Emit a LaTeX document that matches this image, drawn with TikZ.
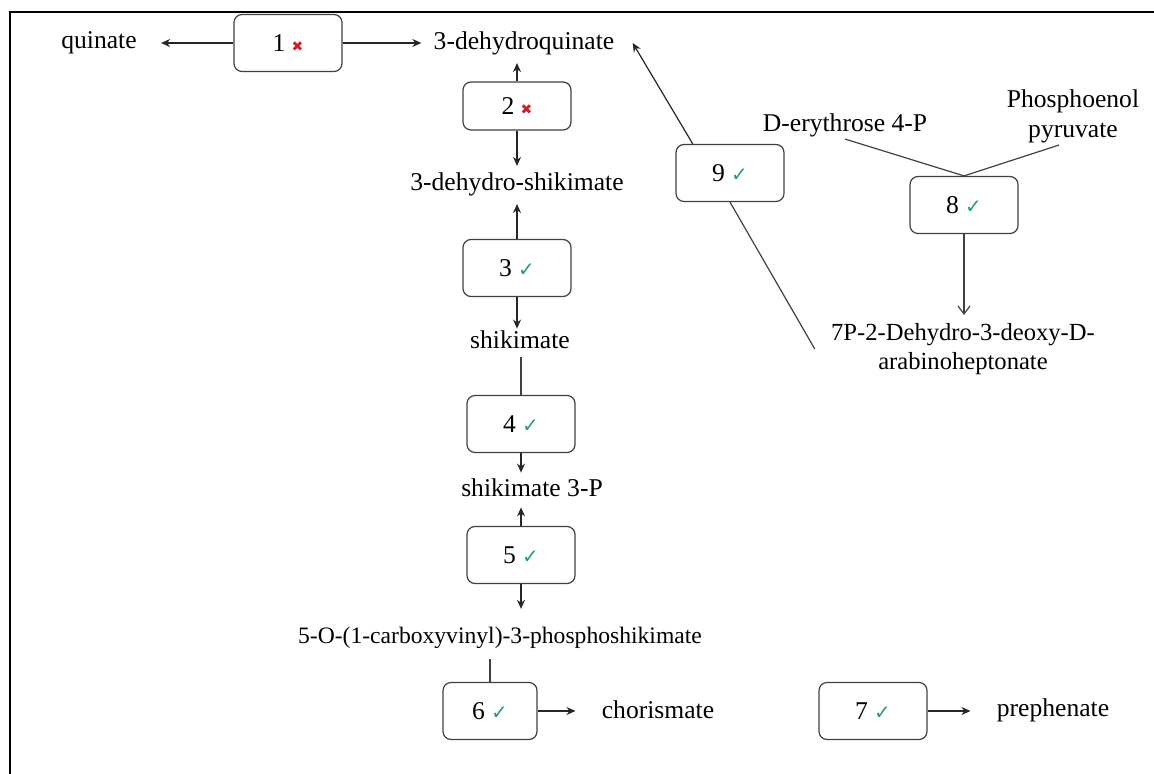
\documentclass[tikz,border=0pt]{standalone}
\usepackage{fontspec}
\setmainfont{Liberation Serif}
\newfontfamily\symfont{DejaVu Sans}
\usetikzlibrary{arrows.meta}
\definecolor{okgreen}{RGB}{40,160,100}
\definecolor{nored}{RGB}{210,30,40}
\newcommand{\yes}{{\symfont\color{okgreen}\normalsize ✓}}
\newcommand{\no}{{\symfont\color{nored}\scriptsize ✖}}

\begin{document}
\begin{tikzpicture}[x=0.5pt,y=-0.5pt,
  enz/.style={draw=black!75, line width=0.6pt, rounded corners=4pt, minimum width=54pt, minimum height=28.5pt, font=\fontsize{12.8}{15}\selectfont},
  met/.style={font=\fontsize{12.8}{15}\selectfont, inner sep=1pt, align=center},
  conv/.style={-{Stealth[length=4.5pt,width=4pt]}, draw=black!85, line width=0.6pt},
  link/.style={draw=black!75, line width=0.6pt}]
\useasboundingbox (0,0) rectangle (1154,774);
% Drawing frame
\draw[line width=1pt] (10,774) -- (10,12) -- (1154,12);
% Drawing metabolites
\node[met] (qui) at (99,43) {quinate};
\node[met] (dhq) at (524,43) {3-dehydroquinate};
\node[met] (dhs) at (517,184) {3-dehydro-shikimate};
\node[met] (shk) at (520,340) {shikimate};
\node[met] (s3p) at (532,488) {shikimate 3-P};
\node[met, font=\fontsize{11.8}{14}\selectfont] (epsp) at (500,638) {5-O-(1-carboxyvinyl)-3-phosphoshikimate};
\node[met] (cho) at (658,710) {chorismate};
\node[met] (pre) at (1053,710) {prephenate};
\node[met] (e4p) at (845,125) {D-erythrose 4-P};
\node[met] (pep) at (1073,116) {Phosphoenol\\pyruvate};
\node[met, font=\fontsize{12.3}{14.5}\selectfont] (dah) at (963,349) {7P-2-Dehydro-3-deoxy-D-\\arabinoheptonate};
% Drawing enzymes
\node[enz] (e1) at (288,43) {1 \no};
\node[enz, minimum height=24pt] (e2) at (517,106) {2 \no};
\node[enz] (e3) at (517,268) {3 \yes};
\node[enz] (e4) at (521,424) {4 \yes};
\node[enz] (e5) at (521,555) {5 \yes};
\node[enz, minimum width=47pt] (e6) at (490,711) {6 \yes};
\node[enz] (e7) at (873,711) {7 \yes};
\node[enz] (e8) at (964,205) {8 \yes};
\node[enz] (e9) at (730,173) {9 \yes};
% Done with nodes; drawing connectors
\draw[conv, shorten >=11pt] (e1.west) -- (e1.west -| qui.east);
\draw[conv, shorten >=5pt] (e1.east) -- (e1.east -| dhq.west);
\draw[conv, shorten >=3pt] (e2.north) -- (e2.north |- dhq.south);
\draw[conv, shorten >=2pt] (e2.south) -- (e2.south |- dhs.north);
\draw[conv, shorten >=3pt] (e3.north) -- (e3.north |- dhs.south);
\draw[conv] (e3.south) -- (e3.south |- shk.north);
\draw[link, shorten <=3pt] (e4.north |- shk.south) -- (e4.north);
\draw[conv, shorten >=2pt] (e4.south) -- (e4.south |- s3p.north);
\draw[conv, shorten >=4pt] (e5.north) -- (e5.north |- s3p.south);
\draw[conv, shorten >=8pt] (e5.south) -- (e5.south |- epsp.north);
\draw[link, shorten <=4pt] (e6.north |- epsp.south) -- (e6.north);
\draw[conv, shorten >=12pt] (e6.east) -- (e6.east -| cho.west);
\draw[conv, shorten >=12pt] (e7.east) -- (e7.east -| pre.west);
\draw[conv] (e9.142) -- ([xshift=8pt]dhq.east);
\draw[link] (e9.south) -- ([xshift=-7pt]dah.west);
\draw[link] (e4p.south) -- (e8.north);
\draw[link] ([xshift=-7pt]pep.south) -- (e8.north);
\draw[-{Straight Barb[length=4pt,width=6pt]}, link, shorten >=3pt] (e8.south) -- (e8.south |- dah.north);
% Done with connectors
\end{tikzpicture}
\end{document}
